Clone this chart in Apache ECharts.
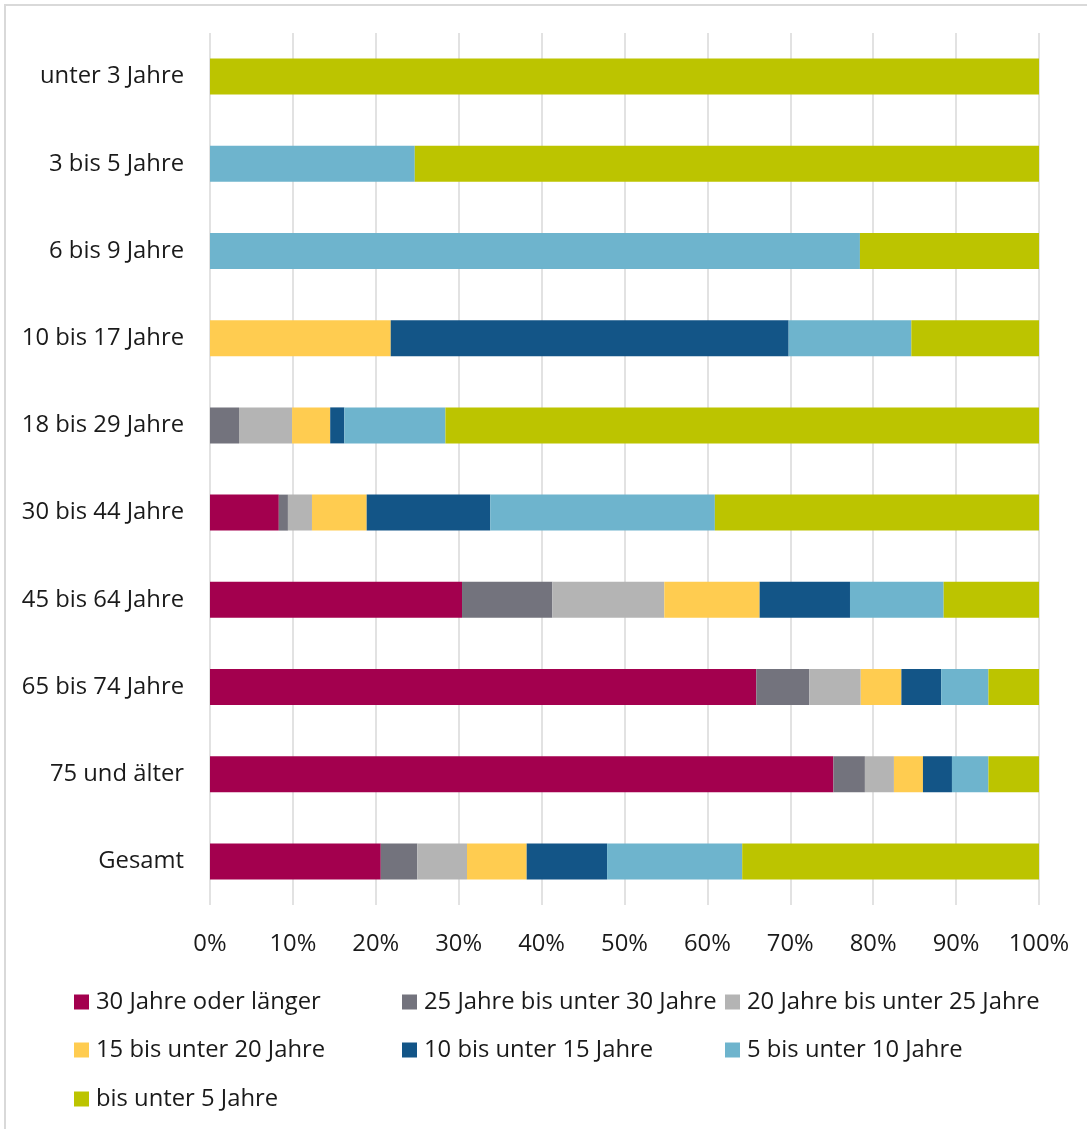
<!DOCTYPE html>
<html>
<head>
<meta charset="utf-8">
<title>Wohndauer nach Altersgruppen</title>
<script src="https://cdn.jsdelivr.net/npm/echarts@6/dist/echarts.min.js"></script>
<style>
  html, body { margin: 0; padding: 0; background: #ffffff; }
  #chart { width: 1087px; height: 1129px; }
</style>
</head>
<body>
<div id="chart"></div>
<script>
// Altersgruppen (top to bottom)
const categories = ['unter 3 Jahre', '3 bis 5 Jahre', '6 bis 9 Jahre', '10 bis 17 Jahre', '18 bis 29 Jahre',
  '30 bis 44 Jahre', '45 bis 64 Jahre', '65 bis 74 Jahre', '75 und älter', 'Gesamt'];

// Anteile in Prozent je Wohndauer-Klasse
const dauer30plus = [0, 0, 0, 0, 0, 8.3, 30.4, 65.9, 75.2, 20.6];
const dauer25bis30 = [0, 0, 0, 0, 3.5, 1.1, 10.9, 6.4, 3.8, 4.4];
const dauer20bis25 = [0, 0, 0, 0, 6.4, 2.9, 13.5, 6.2, 3.5, 6.0];
const dauer15bis20 = [0, 0, 0, 21.8, 4.6, 6.6, 11.5, 4.9, 3.5, 7.2];
const dauer10bis15 = [0, 0, 0, 48.0, 1.7, 14.9, 10.9, 4.8, 3.5, 9.7];
const dauer5bis10 = [0, 24.7, 78.4, 14.8, 12.2, 27.1, 11.3, 5.7, 4.4, 16.3];
const dauerUnter5 = [100, 75.3, 21.6, 15.4, 71.6, 39.1, 11.5, 6.1, 6.1, 35.8];

const seriesNames = ['30 Jahre oder länger', '25 Jahre bis unter 30 Jahre', '20 Jahre bis unter 25 Jahre',
  '15 bis unter 20 Jahre', '10 bis unter 15 Jahre', '5 bis unter 10 Jahre', 'bis unter 5 Jahre'];
const seriesData = [dauer30plus, dauer25bis30, dauer20bis25, dauer15bis20, dauer10bis15, dauer5bis10, dauerUnter5];
const colors = ['#a3004e', '#73737d', '#b4b4b4', '#ffcc50', '#135587', '#6eb4cd', '#bcc400'];

const FONT = '"Open Sans", "Noto Sans", sans-serif';
const TEXT = '#1a1a1a';
const FS = 23.8;

// legend slots: [left, top]
const legendSlots = [[74, 990], [402, 990], [725, 990], [74, 1038], [402, 1038], [725, 1038], [74, 1087]];

const chart = echarts.init(document.getElementById('chart'), null, { renderer: 'canvas' });

chart.setOption({
  animation: false,
  backgroundColor: '#ffffff',
  textStyle: { fontFamily: FONT },
  graphic: [{
    type: 'rect',
    shape: { x: 5, y: 5, width: 1100, height: 1140 },
    style: { fill: 'none', stroke: '#d9d9d9', lineWidth: 2 },
    silent: true
  }],
  grid: { left: 210, right: 48, top: 33, bottom: 224, containLabel: false },
  xAxis: {
    type: 'value',
    min: 0, max: 100, interval: 10,
    axisLine: { show: false },
    axisTick: { show: false },
    splitLine: { show: true, lineStyle: { color: '#d9d9d9', width: 1.5 } },
    axisLabel: { formatter: '{value}%', fontSize: FS, color: TEXT, fontFamily: FONT, margin: 27 }
  },
  yAxis: {
    type: 'category',
    data: categories,
    inverse: true,
    axisLine: { show: false },
    axisTick: { show: false },
    axisLabel: { fontSize: FS, color: TEXT, fontFamily: FONT, margin: 26 }
  },
  legend: seriesNames.map((name, i) => ({
    data: [name],
    left: legendSlots[i][0],
    top: legendSlots[i][1],
    padding: 0,
    itemWidth: 15,
    itemHeight: 15,
    icon: 'rect',
    textStyle: { fontSize: FS, color: TEXT, fontFamily: FONT, padding: [0, 0, 0, 2] },
    selectedMode: false
  })),
  series: seriesNames.map((name, i) => ({
    name,
    type: 'bar',
    stack: 'anteil',
    data: seriesData[i],
    barWidth: 36,
    itemStyle: { color: colors[i] },
    emphasis: { disabled: true }
  }))
});
</script>
</body>
</html>
